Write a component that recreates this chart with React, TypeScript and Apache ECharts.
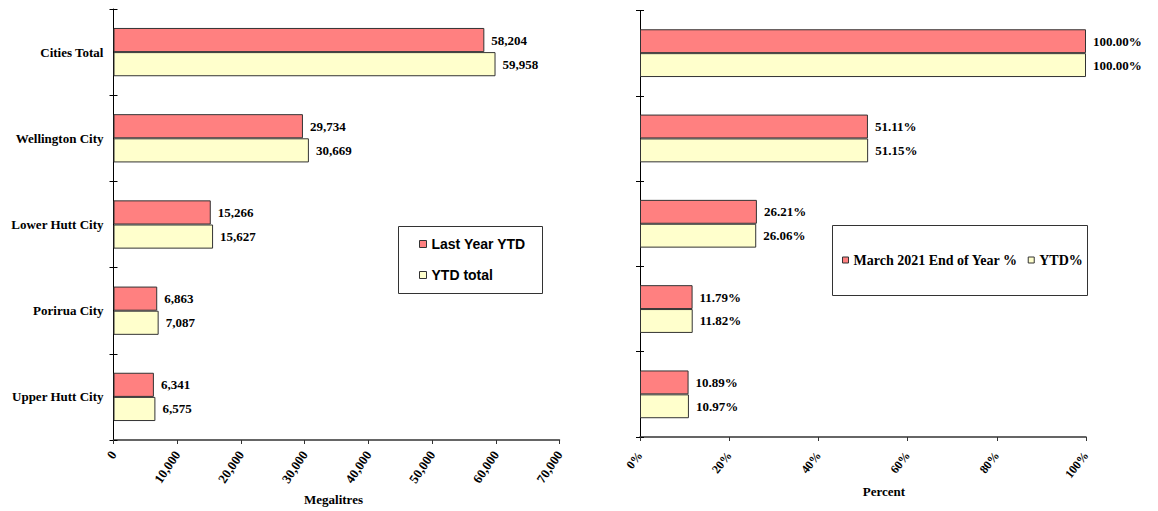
import React, { useEffect, useRef } from "react";
import * as echarts from "echarts";

// Council areas, top to bottom
const cities = ["Cities Total", "Wellington City", "Lower Hutt City", "Porirua City", "Upper Hutt City"];

// Water volumes in megalitres
const lastYearYtd = [58204, 29734, 15266, 6863, 6341];
const ytdTotal = [59958, 30669, 15627, 7087, 6575];

// Share of the regional total, percent
const endOfYearPct = [100.0, 51.11, 26.21, 11.79, 10.89];
const ytdPct = [100.0, 51.15, 26.06, 11.82, 10.97];

// Axis ranges
const volumeMax = 70000;
const volumeStep = 10000;
const pctMax = 100;
const pctStep = 20;

const seriesNames = ["Last Year YTD", "YTD total", "March 2021 End of Year %", "YTD%"];

const RED = "#FF8080";
const YELLOW = "#FFFFCC";
const EDGE = "#333333";
const SERIF = "'Liberation Serif', 'Times New Roman', serif";
const SANS = "'Liberation Sans', Arial, sans-serif";

const withCommas = (n: number) => String(n).replace(/\B(?=(\d{3})+(?!\d))/g, ",");

const boldSerif = (size: number) => ({
  fontFamily: SERIF,
  fontWeight: "bold" as const,
  fontSize: size,
  color: "#000",
});

function categoryAxes(gridIndex: number, showLabels: boolean) {
  return [
    {
      gridIndex,
      type: "category",
      data: cities,
      inverse: true,
      position: "left",
      axisLine: { show: true, lineStyle: { color: "#000", width: 1 } },
      axisTick: { show: true, length: 4, lineStyle: { color: "#000" } },
      axisLabel: { show: showLabels, margin: 10, ...boldSerif(13) },
      splitLine: { show: false },
    },
    {
      gridIndex,
      type: "category",
      data: cities,
      inverse: true,
      position: "left",
      axisLine: { show: false },
      axisTick: { show: true, inside: true, length: 4, lineStyle: { color: "#000" } },
      axisLabel: { show: false },
      splitLine: { show: false },
    },
  ];
}

function barSeries(name: string, data: number[], color: string, grid: number, fmt: (v: number) => string) {
  return {
    name,
    type: "bar",
    xAxisIndex: grid,
    yAxisIndex: grid * 2,
    data,
    barGap: "0%",
    barCategoryGap: "44%",
    itemStyle: { color, borderColor: EDGE, borderWidth: 1 },
    label: {
      show: true,
      position: "right",
      distance: 7,
      formatter: (p: any) => fmt(p.value),
      ...boldSerif(13),
    },
  };
}

export default function App() {
  const ref = useRef<HTMLDivElement>(null);

  useEffect(() => {
    if (!ref.current) return;
    const chart = echarts.init(ref.current, undefined, { renderer: "svg" });

    const option: any = {
      animation: false,
      backgroundColor: "#fff",
      grid: [
        { left: 113.5, top: 9, width: 446, height: 434 },
        { left: 640, top: 10.5, width: 446, height: 426.5 },
      ],
      xAxis: [
        {
          gridIndex: 0,
          type: "value",
          min: 0,
          max: volumeMax,
          interval: volumeStep,
          axisLine: { show: true, lineStyle: { color: EDGE, width: 1.5 } },
          axisTick: { show: true, length: 4, lineStyle: { color: EDGE } },
          splitLine: { show: false },
          axisLabel: { rotate: 56, margin: 12, formatter: (v: number) => withCommas(v), ...boldSerif(13) },
          name: "Megalitres",
          nameLocation: "middle",
          nameGap: 53,
          nameMoveOverlap: false,
          nameTextStyle: { ...boldSerif(13), verticalAlign: "top", padding: [0, 0, 0, -6] },
        },
        {
          gridIndex: 1,
          type: "value",
          min: 0,
          max: pctMax,
          interval: pctStep,
          axisLine: { show: true, lineStyle: { color: EDGE, width: 1.5 } },
          axisTick: { show: true, length: 4, lineStyle: { color: EDGE } },
          splitLine: { show: false },
          axisLabel: { rotate: 52, margin: 16, formatter: "{value}%", ...boldSerif(12) },
          name: "Percent",
          nameLocation: "middle",
          nameGap: 48,
          nameMoveOverlap: false,
          nameTextStyle: { ...boldSerif(13), verticalAlign: "top", padding: [0, 0, 0, 42] },
        },
      ],
      yAxis: [...categoryAxes(0, true), ...categoryAxes(1, false)],
      legend: [
        {
          data: [seriesNames[0], seriesNames[1]],
          orient: "vertical",
          left: 419,
          top: 236,
          padding: 0,
          icon: "rect",
          itemWidth: 7,
          itemHeight: 7,
          itemGap: 15,
          selectedMode: false,
          itemStyle: { borderColor: EDGE, borderWidth: 1 },
          textStyle: { fontFamily: SANS, fontWeight: "bold", fontSize: 14, lineHeight: 16, color: "#000" },
        },
        {
          data: [seriesNames[2], seriesNames[3]],
          orient: "horizontal",
          left: 842,
          top: 252,
          padding: 0,
          icon: "rect",
          itemWidth: 6,
          itemHeight: 6,
          itemGap: 10,
          selectedMode: false,
          itemStyle: { borderColor: EDGE, borderWidth: 1 },
          textStyle: { fontFamily: SERIF, fontWeight: "bold", fontSize: 14, lineHeight: 16, color: "#000" },
        },
      ],
      graphic: [
        {
          type: "rect",
          shape: { x: 398.5, y: 226.5, width: 144, height: 67 },
          style: { fill: "none", stroke: EDGE, lineWidth: 1 },
          silent: true,
        },
        {
          type: "rect",
          shape: { x: 832.5, y: 225.5, width: 255, height: 70 },
          style: { fill: "none", stroke: EDGE, lineWidth: 1 },
          silent: true,
        },
      ],
      series: [
        barSeries(seriesNames[0], lastYearYtd, RED, 0, withCommas),
        barSeries(seriesNames[1], ytdTotal, YELLOW, 0, withCommas),
        barSeries(seriesNames[2], endOfYearPct, RED, 1, (v) => v.toFixed(2) + "%"),
        barSeries(seriesNames[3], ytdPct, YELLOW, 1, (v) => v.toFixed(2) + "%"),
      ],
    };

    chart.setOption(option);
    return () => chart.dispose();
  }, []);

  return (
    <div
      ref={ref}
      style={{ position: "absolute", left: 0, top: 0, width: 1158, height: 511 }}
    />
  );
}
